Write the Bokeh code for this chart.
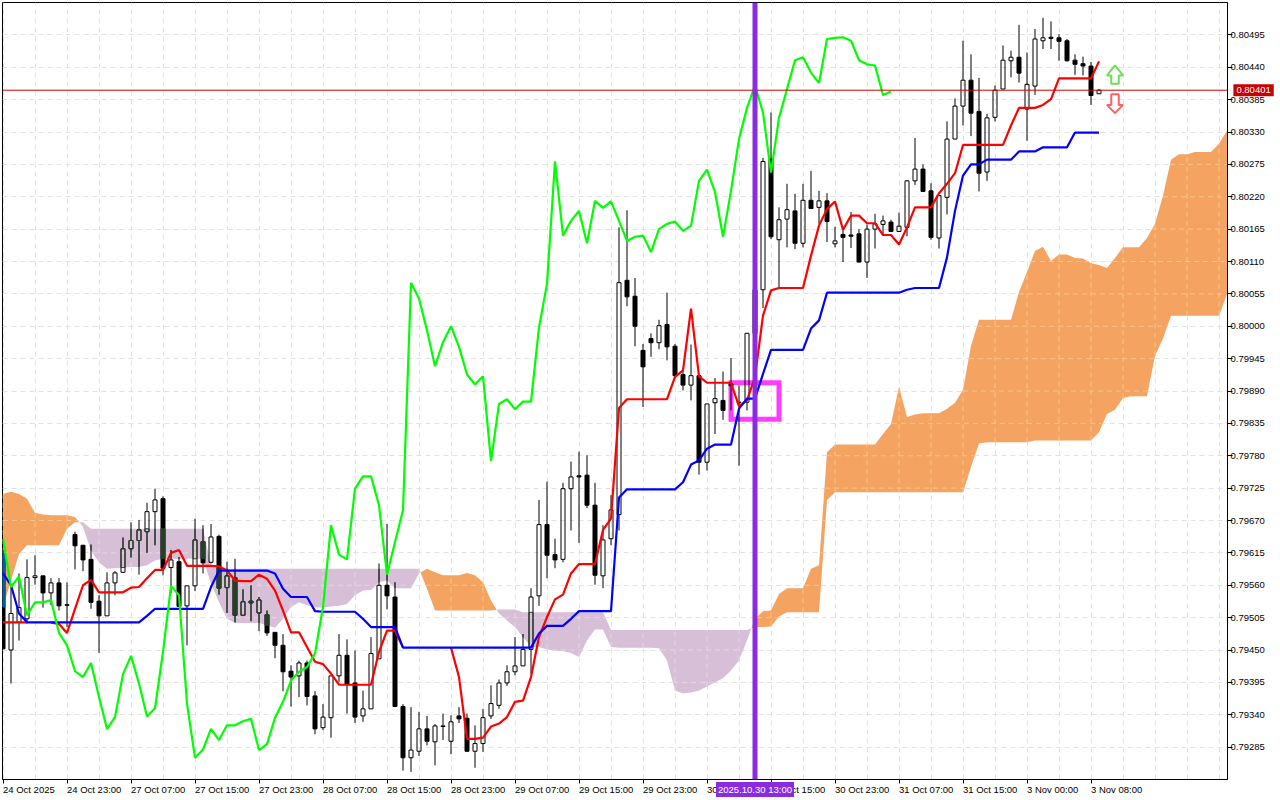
from bokeh.plotting import figure
from bokeh.layouts import column
from bokeh.models import Range1d, FixedTicker, Label, Span, PrintfTickFormatter
from bokeh.embed import file_html
from bokeh.resources import INLINE

# Hourly candles, prices in 1e-5 units (points)
opens = [79613,79450,79497,79503,79573,79576,79547,79564,79527,79646,79628,79604,79533,79508,79564,79582,79622,79636,79651,79685,
         79707,79590,79600,79525,79559,79634,79599,79643,79556,79573,79509,79533,79513,79510,79480,79458,79414,79406,79428,79372,
         79318,79335,79406,79441,79394,79338,79350,79435,79560,79540,79354,79267,79278,79316,79294,79321,79295,79338,79334,79278,
         79291,79338,79356,79394,79413,79423,79451,79542,79663,79612,79604,79724,79746,79747,79696,79576,79639,79680,80078,80051,
         79959,79979,79972,80003,79966,79918,79900,79916,79769,79870,79874,79902,79871,79871,79988,80062,80284,80147,80182,80196,
         80141,80214,80202,80213,80140,80156,80155,80157,80109,80165,80173,80177,80161,80168,80247,80267,80230,80150,80219,80318,
         80374,80418,80365,80262,80355,80403,80451,80457,80369,80408,80485,80491,80490,80485,80452,80446,80442,80395]
highs = [79620,79557,79580,79604,79611,79576,79572,79572,79565,79651,79628,79629,79543,79582,79584,79641,79667,79671,79700,79724,
         79711,79620,79608,79559,79673,79662,79664,79646,79600,79605,79553,79560,79540,79517,79480,79477,79424,79432,79432,79380,
         79358,79406,79477,79468,79449,79381,79472,79597,79664,79565,79358,79353,79345,79338,79324,79342,79339,79353,79342,79322,
         79350,79390,79400,79424,79472,79477,79555,79705,79736,79639,79734,79770,79787,79781,79734,79662,79713,80168,80197,80082,
         79970,79988,80011,80057,79970,79925,79969,79916,79868,79912,79923,79946,79899,79988,80062,80286,80363,80202,80242,80225,
         80242,80264,80230,80226,80169,80168,80194,80165,80173,80191,80188,80181,80193,80248,80320,80275,80243,80222,80348,80387,
         80485,80462,80422,80361,80409,80477,80468,80512,80465,80505,80524,80518,80496,80488,80462,80458,80449,80403]
lows = [79452,79393,79466,79495,79561,79522,79526,79517,79489,79587,79584,79520,79445,79508,79543,79581,79607,79578,79615,79628,
        79577,79547,79524,79458,79550,79580,79597,79544,79513,79497,79509,79499,79482,79474,79436,79380,79354,79370,79356,79307,
        79314,79301,79396,79342,79326,79328,79350,79435,79519,79353,79245,79243,79270,79288,79254,79297,79273,79326,79277,79250,
        79277,79333,79350,79389,79407,79423,79410,79525,79572,79589,79599,79653,79632,79691,79561,79555,79628,79653,80034,79966,
        79863,79948,79961,79942,79913,79891,79874,79748,79755,79817,79841,79857,79763,79857,79981,80031,80148,80064,80134,80131,
        80134,80200,80174,80143,80134,80109,80133,80109,80082,80132,80155,80161,80161,80153,80240,80229,80147,80132,80190,80318,
        80341,80323,80229,80247,80348,80403,80423,80414,80315,80393,80471,80471,80451,80450,80427,80426,80376,80395]
closes = [79452,79512,79522,79573,79576,79547,79564,79525,79526,79627,79603,79531,79508,79564,79581,79622,79636,79654,79685,79705,
          79589,79603,79524,79559,79637,79598,79642,79555,79576,79509,79532,79530,79535,79479,79458,79413,79404,79428,79371,79316,
          79336,79406,79441,79391,79336,79350,79444,79560,79542,79354,79267,79280,79316,79295,79321,79320,79328,79333,79278,79291,
          79335,79359,79394,79413,79423,79451,79540,79663,79611,79603,79724,79744,79744,79696,79577,79637,79688,80074,80050,80000,
          79931,79972,80001,79965,79916,79900,79916,79769,79868,79877,79857,79899,79870,79988,80062,80280,80152,80181,80198,80141,
          80214,80200,80213,80178,80145,80151,80153,80109,80165,80174,80179,80161,80170,80247,80267,80229,80151,80222,80318,80374,
          80418,80362,80260,80354,80401,80452,80457,80430,80411,80488,80490,80489,80484,80451,80445,80442,80392,80401]

tenkan = [79497,79497,79497,79497,79497,79497,79497,79494,79479,79520,79560,79569,79548,79548,79548,79548,79556,79557,79572,79586,
          79586,79615,79620,79593,79593,79593,79593,79592,79585,79568,79567,79567,79578,79571,79551,79517,79480,79480,79455,79430,
          79426,79410,79391,79391,79391,79391,79391,79447,79483,79483,79454,79454,79454,79454,79454,79454,79454,79404,79299,79299,
          79301,79320,79325,79336,79362,79364,79404,79472,79506,79536,79544,79580,79596,79596,79596,79654,79673,79861,79876,79876,
          79876,79876,79876,79876,79914,79925,80030,79915,79904,79904,79904,79904,79864,79874,79914,80018,80061,80065,80065,80065,
          80065,80120,80171,80199,80212,80164,80188,80188,80175,80175,80155,80155,80139,80168,80202,80202,80202,80226,80242,80260,
          80308,80308,80308,80308,80308,80308,80341,80371,80371,80371,80376,80386,80421,80421,80421,80421,80421,80450]
kijun = [79580,79560,79512,79497,79497,79497,79497,79497,79497,79497,79497,79497,79497,79497,79497,79497,79497,79497,79508,79520,
         79520,79520,79520,79520,79520,79520,79557,79585,79585,79585,79585,79585,79585,79585,79580,79554,79540,79540,79540,79516,
         79515,79515,79515,79515,79515,79503,79489,79489,79489,79489,79454,79454,79454,79454,79454,79454,79454,79454,79454,79454,
         79454,79454,79454,79454,79454,79454,79454,79478,79491,79491,79491,79503,79516,79516,79516,79516,79516,79709,79723,79723,
         79723,79723,79723,79723,79723,79735,79765,79772,79792,79799,79799,79799,79860,79877,79877,79919,79960,79960,79960,79960,
         79960,79996,80010,80057,80057,80057,80057,80057,80057,80057,80057,80057,80057,80062,80065,80065,80065,80065,80117,80196,
         80256,80275,80275,80283,80283,80283,80283,80297,80297,80297,80304,80304,80304,80304,80329,80329,80329,80329]
chikou = [79639,79557,79575,79509,79531,79531,79535,79479,79458,79414,79404,79428,79370,79316,79336,79409,79440,79393,79337,79351,
          79447,79559,79543,79359,79267,79281,79316,79297,79322,79322,79329,79333,79280,79290,79335,79362,79398,79413,79421,79444,
          79523,79662,79612,79604,79724,79745,79745,79696,79578,79633,79688,80074,80047,79993,79932,79973,80000,79965,79918,79901,
          79915,79771,79868,79876,79859,79872,79872,79998,80072,80280,80154,80179,80196,80141,80213,80201,80212,80179,80145,80152,
          80154,80126,80165,80174,80178,80162,80171,80247,80266,80228,80152,80230,80318,80371,80409,80363,80261,80354,80403,80452,
          80457,80431,80413,80488,80490,80491,80485,80452,80445,80443,80393,80399]
span_a = [79715,79719,79715,79707,79683,79680,79679,79679,79679,79676,
          79659,79619,79599,79588,79589,79590,79591,79591,79594,79602,79605,79605,79605,79605,79605,79605,79563,79531,79503,79496,
          79496,79496,79496,79492,79488,79503,79523,79531,79526,79522,79522,79524,79525,79528,79543,79551,79552,79565,79568,79555,
          79555,79555,79580,
          79588,79582,79577,79577,79577,79581,79577,79565,79534,
          79512,79500,79489,79472,79455,79455,79451,79449,79448,79445,79438,79466,79485,79485,79455,79454,79454,79454,79454,79454,
          79453,79432,79381,79376,79378,79381,79388,79395,79402,79415,79432,79466,
          79503,79516,79517,79545,79555,79555,79555,79588,79594,79786,79799,79799,79799,79799,79799,79799,79817,79834,79897,79846,
          79850,79852,79852,79852,79860,79870,79892,79967,80011,80011,80011,80011,80011,80058,80092,80128,80135,80111,80122,80122,
          80116,80115,80107,80104,80099,80116,80134,80134,80134,80150,80174,80222,80283,80292,80292,80296,80296,80296,80310,80332]
span_b = [79523,79568,79613,79628,79628,79628,79628,79628,79656,79667,
          79667,79656,79656,79656,79656,79656,79656,79656,79656,79656,79656,79656,79656,79656,79656,79656,79594,79589,79588,79588,
          79588,79588,79588,79588,79588,79588,79588,79588,79588,79588,79588,79588,79588,79588,79588,79588,79588,79588,79588,79588,
          79588,79588,79588,
          79554,79517,79517,79517,79517,79517,79517,79517,79517,
          79519,79519,79519,79514,79514,79514,79514,79514,79514,79514,79514,79514,79514,79514,79484,79484,79484,79484,79484,79484,
          79484,79484,79484,79484,79484,79484,79484,79484,79484,79484,79484,79484,
          79489,79489,79490,79507,79514,79514,79514,79514,79514,79705,79718,79718,79718,79718,79718,79718,79718,79718,79718,79718,
          79718,79718,79718,79718,79718,79718,79718,79761,79801,79803,79803,79803,79803,79803,79803,79806,79806,79806,79806,79806,
          79806,79806,79806,79820,79851,79858,79878,79881,79881,79881,79950,79979,80018,80018,80018,80018,80018,80018,80018,80055]

y_ticks = [0.79285,0.79340,0.79395,0.79450,0.79505,0.79560,0.79615,0.79670,0.79725,0.79780,0.79835,0.79890,0.79945,
           0.80000,0.80055,0.80110,0.80165,0.80220,0.80275,0.80330,0.80385,0.80440,0.80495]
x_tick_bars = [0,8,16,24,32,40,48,56,64,72,80,88,96,104,112,120,128,136]
x_tick_labels = ["24 Oct 2025","24 Oct 23:00","27 Oct 07:00","27 Oct 15:00","27 Oct 23:00","28 Oct 07:00","28 Oct 15:00",
                 "28 Oct 23:00","29 Oct 07:00","29 Oct 15:00","29 Oct 23:00","30 Oct 07:00","30 Oct 15:00","30 Oct 23:00",
                 "31 Oct 07:00","31 Oct 15:00","3 Nov 00:00","3 Nov 08:00"]
grid_bars = list(range(0, 154, 4))
last_price = 0.80401
event_bar = 94
event_label = "2025.10.30 13:00"
box_bars = (91, 97)
box_prices = (0.79842, 0.79904)
up_arrow_bar, up_arrow_prices = 139, (0.80443, 0.80426, 0.80412)
down_arrow_bar, down_arrow_prices = 139, (0.80394, 0.80376, 0.80362)

PT = 1e-5
FONT = "Liberation Sans"
FONT_SIZE = "9.5px"
SANDY, THISTLE = "#F4A460", "#D8BFD8"
XOR_SANDY, XOR_THISTLE = "#0B5B9F", "#274027"
GRID_DASH = "5 4"
LINE_W = 2.2

p = figure(width=1280, height=800, frame_width=1225, frame_height=777,
           output_backend="svg", toolbar_location=None, y_axis_location="right",
           x_range=Range1d(-0.0625, 153.0625), y_range=Range1d(0.79230, 0.80550),
           min_border_left=2, min_border_top=2, min_border_right=53, min_border_bottom=21,
           background_fill_color="white", border_fill_color="white")
p.frame_align = False
p.outline_line_color = "black"

p.xgrid.ticker = FixedTicker(ticks=grid_bars)
p.ygrid.ticker = FixedTicker(ticks=y_ticks)
for g in (p.xgrid, p.ygrid):
    g.grid_line_color = "#E2E2E2"
    g.grid_line_dash = GRID_DASH
    g.grid_line_width = 1

p.xaxis.ticker = FixedTicker(ticks=x_tick_bars)
p.xaxis.major_label_overrides = {b: "" for b in x_tick_bars}
p.xaxis.major_tick_out = 4
p.xaxis.major_tick_in = 0
p.xaxis.minor_tick_line_color = None
p.xaxis.axis_line_color = "black"
p.yaxis.ticker = FixedTicker(ticks=y_ticks)
p.yaxis.formatter = PrintfTickFormatter(format="%.5f")
p.yaxis.major_tick_out = 5
p.yaxis.major_tick_in = 0
p.yaxis.minor_tick_line_color = None
p.yaxis.major_label_text_font = FONT
p.yaxis.major_label_text_font_size = FONT_SIZE
p.yaxis.major_label_text_color = "black"
p.yaxis.major_label_standoff = -2

# cloud: split where the two spans cross
n = len(span_a)
runs = []
cur_x, cur_a, cur_b = [0.0], [span_a[0] * PT], [span_b[0] * PT]
for i in range(1, n):
    d0, d1 = span_a[i - 1] - span_b[i - 1], span_a[i] - span_b[i]
    if d0 * d1 < 0:
        t = d0 / (d0 - d1)
        yc = (span_a[i - 1] + t * (span_a[i] - span_a[i - 1])) * PT
        cur_x.append(i - 1 + t); cur_a.append(yc); cur_b.append(yc)
        runs.append((d0 > 0, cur_x, cur_a, cur_b))
        cur_x, cur_a, cur_b = [i - 1 + t], [yc], [yc]
    cur_x.append(float(i)); cur_a.append(span_a[i] * PT); cur_b.append(span_b[i] * PT)
runs.append((span_a[-1] > span_b[-1], cur_x, cur_a, cur_b))
for up, xs, ya, yb in runs:
    p.varea(x=xs, y1=ya, y2=yb, fill_color=SANDY if up else THISTLE)

# the grid shows through the cloud in a lighter tint
GRID_ON_SANDY, GRID_ON_THISTLE = "#F8C48C", "#E4D6E4"
gx0, gx1, gy0, gy1, gc = [], [], [], [], []
for g in grid_bars:
    if g < n:
        gx0.append(g); gx1.append(g)
        gy0.append(min(span_a[g], span_b[g]) * PT); gy1.append(max(span_a[g], span_b[g]) * PT)
        gc.append(GRID_ON_SANDY if span_a[g] > span_b[g] else GRID_ON_THISTLE)
STEP = 0.125
for tick in y_ticks:
    lvl = tick / PT
    start, colour = None, None
    for k in range(int((n - 1) / STEP) + 1):
        xk = k * STEP
        i0 = min(int(xk), n - 2)
        f = xk - i0
        ak = span_a[i0] + f * (span_a[i0 + 1] - span_a[i0])
        bk = span_b[i0] + f * (span_b[i0 + 1] - span_b[i0])
        inside = min(ak, bk) <= lvl <= max(ak, bk)
        if inside and start is None:
            start, colour = xk, GRID_ON_SANDY if ak > bk else GRID_ON_THISTLE
        if start is not None and (not inside or k == int((n - 1) / STEP)):
            gx0.append(start); gx1.append(xk); gy0.append(tick); gy1.append(tick); gc.append(colour)
            start = None
p.segment(x0=gx0, x1=gx1, y0=gy0, y1=gy1, line_color=gc, line_width=1, line_dash=GRID_DASH)

# order-block box
p.quad(left=[box_bars[0]], right=[box_bars[1]], bottom=[box_prices[0]], top=[box_prices[1]],
       fill_color=None, line_color="#FF3DFF", line_width=5, line_join="miter")

# candles
bars = list(range(len(opens)))
body_lo = [min(o, c) for o, c in zip(opens, closes)]
body_hi = [max(o, c) for o, c in zip(opens, closes)]
p.segment(x0=bars, x1=bars, y0=[v * PT for v in body_hi], y1=[v * PT for v in highs], line_color="black", line_width=1)
p.segment(x0=bars, x1=bars, y0=[v * PT for v in lows], y1=[v * PT for v in body_lo], line_color="black", line_width=1)
up_bars = [i for i in bars if closes[i] >= opens[i]]
down_bars = [i for i in bars if closes[i] < opens[i]]
p.vbar(x=up_bars, width=0.5, bottom=[opens[i] * PT for i in up_bars], top=[closes[i] * PT for i in up_bars],
       fill_color=None, line_color="black", line_width=1)
p.vbar(x=down_bars, width=0.5, bottom=[closes[i] * PT for i in down_bars], top=[opens[i] * PT for i in down_bars],
       fill_color="black", line_color="black", line_width=1)

# parts of candles under the cloud take the inverted cloud tint
for i in bars:
    lo, hi = min(span_a[i], span_b[i]), max(span_a[i], span_b[i])
    tint = XOR_SANDY if span_a[i] > span_b[i] else XOR_THISTLE
    for w_lo, w_hi in ((lows[i], body_lo[i]), (body_hi[i], highs[i])):
        w0, w1 = max(w_lo, lo), min(w_hi, hi)
        if w1 > w0:
            p.segment(x0=[i], x1=[i], y0=[w0 * PT], y1=[w1 * PT], line_color=tint, line_width=1)
    b0, b1 = max(body_lo[i], lo), min(body_hi[i], hi)
    if b1 > b0:
        p.vbar(x=[i], width=0.5, bottom=[b0 * PT], top=[b1 * PT],
               fill_color=tint if closes[i] < opens[i] else None, line_color=tint, line_width=1)

# ichimoku lines; where the fast line lies exactly under the slow one it is not drawn
tenkan_y = []
for i, v in enumerate(tenkan):
    hidden = (v == kijun[i] and 0 < i < len(tenkan) - 1
              and tenkan[i - 1] == kijun[i - 1] and tenkan[i + 1] == kijun[i + 1])
    tenkan_y.append(float("nan") if hidden else v * PT)
p.line(list(range(len(tenkan))), tenkan_y, line_color="#FF0000", line_width=LINE_W)
p.line(list(range(len(kijun))), [v * PT for v in kijun], line_color="#0000FF", line_width=LINE_W)
p.line(list(range(len(chikou))), [v * PT for v in chikou], line_color="#00FF00", line_width=LINE_W)

# arrows
a = up_arrow_prices
p.patch([up_arrow_bar + d for d in (-1, 0, 1, 0.47, 0.47, -0.47, -0.47)],
        [a[1], a[0], a[1], a[1], a[2], a[2], a[1]], fill_color="white", line_color="#6FDD5A", line_width=2)
a = down_arrow_prices
p.patch([down_arrow_bar + d for d in (-1, 0, 1, 0.47, 0.47, -0.47, -0.47)],
        [a[1], a[2], a[1], a[1], a[0], a[0], a[1]], fill_color="white", line_color="#FF6060", line_width=2)

p.add_layout(Span(location=last_price, dimension="width", line_color="#D00000", line_width=1))
p.add_layout(Span(location=event_bar, dimension="height", line_color="#8A2BE2", line_width=5))

# transparent layer on the same scales, spanning the whole canvas: labels outside the plot frame
LABEL_PRICE = 0.79213
ov = figure(width=1280, height=800, output_backend="svg", toolbar_location=None,
            x_axis_type=None, y_axis_type=None, min_border=0,
            x_range=Range1d(-0.3125, 159.6875), y_range=Range1d(0.791943, 0.805534),
            background_fill_color=None, border_fill_color=None, outline_line_color=None,
            margin=(-800, 0, 0, 0))
ov.frame_align = False
ov.grid.visible = False
for b, t in zip(x_tick_bars, x_tick_labels):
    ov.add_layout(Label(x=b, y=LABEL_PRICE, text=t, text_align="left", text_baseline="middle",
                        text_font=FONT, text_font_size=FONT_SIZE, text_color="black"))
ov.add_layout(Label(x=153.8, y=last_price, text=f"{last_price:.5f}", text_align="left",
                    text_baseline="middle", text_font=FONT, text_font_size=FONT_SIZE, text_color="white",
                    background_fill_color="#C80000", padding=3))
ov.add_layout(Label(x=event_bar, y=LABEL_PRICE, text=event_label, text_align="center",
                    text_baseline="middle", text_font=FONT, text_font_size=FONT_SIZE, text_color="white",
                    background_fill_color="#8A2BE2", padding=2))

open("out.html", "w").write(file_html(column(p, ov, spacing=0), INLINE))
